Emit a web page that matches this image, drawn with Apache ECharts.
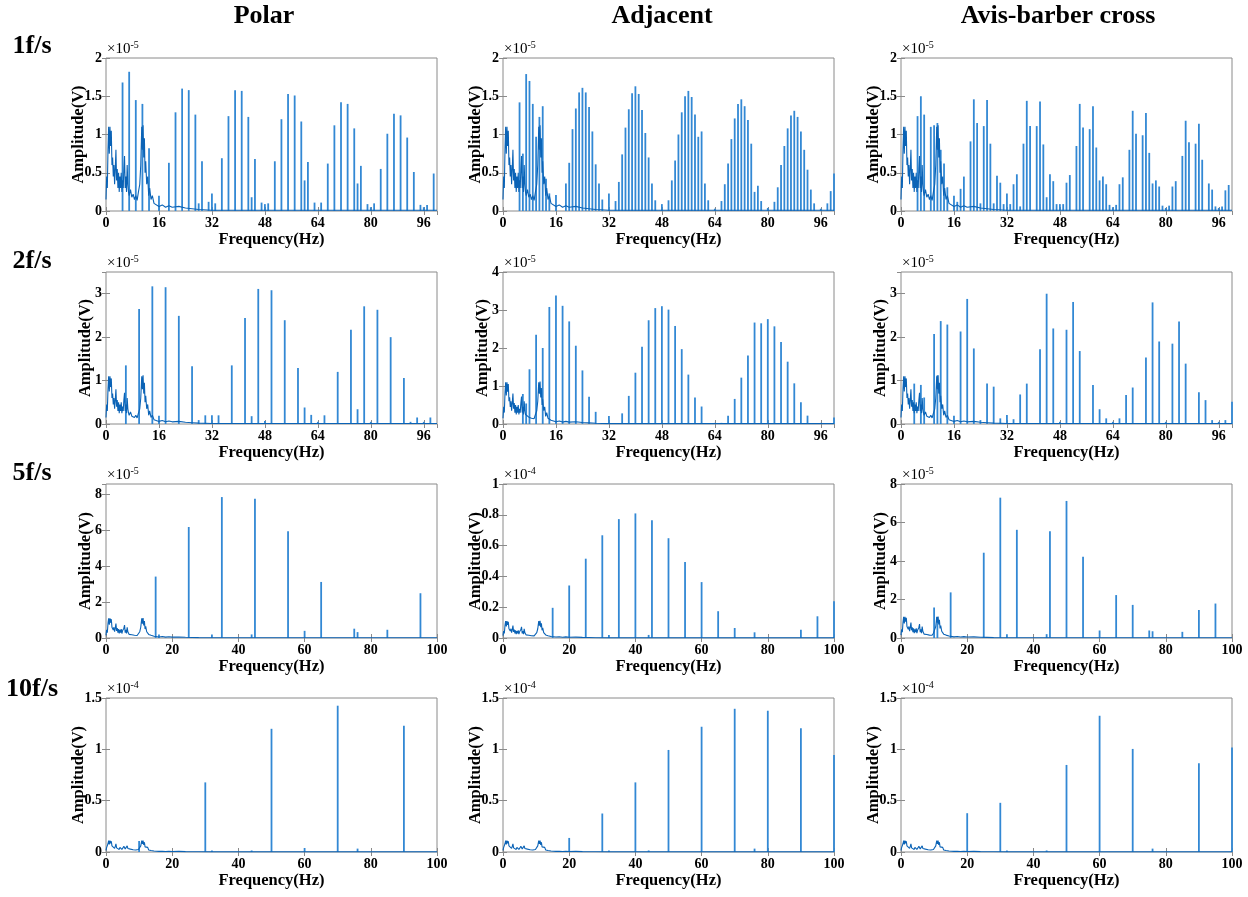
<!DOCTYPE html>
<html>
<head>
<meta charset="utf-8">
<title>Amplitude spectra</title>
<script src="https://cdn.jsdelivr.net/npm/echarts@6.0.0/dist/echarts.min.js"></script>
<style>
  html, body { margin: 0; padding: 0; background: #fff; }
  #main { width: 1248px; height: 897px; }
</style>
</head>
<body>
<div id="main"></div>
<script>
const columnNames = ["Polar", "Adjacent", "Avis-barber cross"];
const rowNames = ["1f/s", "2f/s", "5f/s", "10f/s"];

// all amplitudes are in units of 1e-5 V, points are [frequency (Hz), amplitude]
// low-frequency background, the same in every panel
const lowFreqNoise = [
    [0, 0.15], [0.2, 0.45], [0.4, 0.3], [0.6, 0.8], [0.8, 1.1], [1.0, 0.75], [1.2, 1.1], [1.4, 0.85],
    [1.6, 1.05], [1.8, 0.6], [2.0, 0.7], [2.2, 0.45], [2.4, 0.6], [2.6, 0.35], [2.8, 0.55], [3.0, 0.8],
    [3.2, 0.4], [3.4, 0.55], [3.6, 0.3], [3.8, 0.5], [4.0, 0.25], [4.2, 0.45], [4.4, 0.3], [4.6, 0.5],
    [4.8, 0.25], [5.0, 0.4], [5.2, 0.3], [5.4, 0.55], [5.6, 0.72], [5.8, 0.3], [6.0, 0.45], [6.2, 0.25],
    [6.4, 0.6], [6.6, 0.35], [6.8, 0.25], [7.0, 0.2], [7.4, 0.28], [7.8, 0.18], [8.2, 0.22], [8.6, 0.15],
    [9.0, 0.2], [9.4, 0.14], [9.8, 0.25], [10.2, 0.35], [10.5, 0.6], [10.8, 1.1], [11.0, 0.8], [11.2, 1.12],
    [11.4, 0.7], [11.6, 0.95], [11.8, 0.5], [12.0, 0.65], [12.3, 0.35], [12.6, 0.45], [12.9, 0.2], [13.2, 0.3],
    [13.6, 0.15], [14.0, 0.2], [14.5, 0.1], [15.0, 0.12], [16, 0.06], [17, 0.08], [18, 0.05], [19, 0.07],
    [20, 0.05], [22, 0.06], [24, 0.04], [26, 0.03], [28, 0.02], [32, 0.01], [100, 0.01]
];

// 1f/s
const polar1 = [
    [5, 1.68], [7, 1.82], [9, 1.45], [11, 1.4], [13, 0.82], [16, 0.2], [19, 0.63], [21, 1.29], [23, 1.6],
    [25, 1.58], [27, 1.26], [28, 0.1], [29, 0.65], [31, 0.12], [32, 0.23], [33, 0.1], [35, 0.69], [37, 1.24],
    [39, 1.58], [41, 1.57], [43, 1.23], [44, 0.18], [45, 0.68], [47, 0.11], [48, 0.09], [49, 0.1], [51, 0.65],
    [53, 1.2], [55, 1.53], [57, 1.51], [59, 1.17], [60, 0.4], [61, 0.64], [63, 0.11], [65, 0.11], [67, 0.62],
    [69, 1.12], [71, 1.42], [73, 1.4], [75, 1.08], [76, 0.36], [77, 0.59], [79, 0.09], [80, 0.05], [81, 0.1],
    [83, 0.55], [85, 1.01], [87, 1.27], [89, 1.25], [91, 0.96], [93, 0.51], [95, 0.08], [96, 0.05], [97, 0.08],
    [99, 0.49]
];
const adjacent1 = [
    [5, 1.42], [6, 0.75], [7, 1.79], [8, 1.7], [9, 1.4], [10, 0.97], [11, 1.23], [12, 1.37], [13, 0.42],
    [14, 0.23], [16, 0.21], [19, 0.36], [20, 0.63], [21, 1.07], [22, 1.34], [23, 1.55], [24, 1.61], [25, 1.55],
    [26, 1.36], [27, 1.04], [28, 0.61], [29, 0.36], [30, 0.15], [32, 0.23], [34, 0.13], [35, 0.38], [36, 0.74],
    [37, 1.09], [38, 1.33], [39, 1.54], [40, 1.63], [41, 1.53], [42, 1.32], [43, 1.02], [44, 0.7], [45, 0.36],
    [46, 0.14], [48, 0.09], [50, 0.14], [51, 0.4], [52, 0.66], [53, 1.0], [54, 1.29], [55, 1.5], [56, 1.57],
    [57, 1.49], [58, 1.26], [59, 0.97], [60, 1.04], [61, 0.36], [62, 0.14], [64, 0.03], [66, 0.13], [67, 0.35],
    [68, 0.62], [69, 0.94], [70, 1.21], [71, 1.4], [72, 1.46], [73, 1.37], [74, 1.19], [75, 0.88], [76, 0.25],
    [77, 0.33], [78, 0.13], [80, 0.04], [82, 0.12], [83, 0.31], [84, 0.6], [85, 0.85], [86, 1.08], [87, 1.25],
    [88, 1.31], [89, 1.23], [90, 1.04], [91, 0.8], [92, 0.54], [93, 0.28], [94, 0.1], [96, 0.03], [98, 0.1],
    [99, 0.26], [100, 0.49]
];
const avis1 = [
    [5, 1.24], [6, 1.5], [7, 1.26], [9, 1.1], [10, 1.12], [11, 1.15], [12, 0.8], [13, 0.62], [14, 0.31],
    [16, 0.2], [17, 0.12], [18, 0.29], [19, 0.45], [21, 0.91], [22, 1.46], [23, 1.15], [24, 0.1], [25, 1.11],
    [26, 1.45], [27, 0.88], [28, 0.1], [29, 0.46], [30, 0.37], [31, 0.09], [32, 0.23], [33, 0.09], [34, 0.35],
    [35, 0.48], [36, 0.06], [37, 0.88], [38, 1.44], [39, 1.11], [41, 1.11], [42, 1.43], [43, 0.87], [44, 0.18],
    [45, 0.48], [46, 0.39], [47, 0.09], [48, 0.09], [49, 0.09], [50, 0.37], [51, 0.47], [53, 0.85], [54, 1.4],
    [55, 1.09], [57, 1.07], [58, 1.37], [59, 0.83], [60, 0.4], [61, 0.45], [62, 0.35], [63, 0.08], [64, 0.05],
    [65, 0.08], [66, 0.35], [67, 0.44], [69, 0.8], [70, 1.31], [71, 1.01], [73, 0.99], [74, 1.28], [75, 0.76],
    [76, 0.36], [77, 0.4], [78, 0.32], [79, 0.07], [80, 0.04], [81, 0.07], [82, 0.32], [83, 0.39], [85, 0.72],
    [86, 1.18], [87, 0.9], [89, 0.88], [90, 1.14], [91, 0.67], [93, 0.36], [94, 0.28], [95, 0.06], [96, 0.04],
    [97, 0.06], [98, 0.27], [99, 0.34]
];

// 2f/s
const polar2 = [
    [6, 1.35], [10, 2.65], [14, 3.17], [16, 0.19], [18, 3.15], [22, 2.49], [26, 1.33], [28, 0.09], [30, 0.2],
    [32, 0.2], [34, 0.2], [38, 1.35], [42, 2.44], [44, 0.18], [46, 3.11], [48, 0.07], [50, 3.08], [54, 2.39],
    [58, 1.29], [60, 0.38], [62, 0.21], [64, 0.05], [66, 0.2], [70, 1.2], [74, 2.17], [76, 0.34], [78, 2.71],
    [80, 0.05], [82, 2.63], [86, 2.0], [90, 1.06], [92, 0.05], [94, 0.15], [96, 0.05], [98, 0.15]
];
const adjacent2 = [
    [6, 0.79], [7, 0.54], [8, 1.44], [10, 2.35], [12, 2.0], [14, 3.08], [16, 3.38], [18, 3.11], [20, 2.7],
    [22, 2.06], [24, 1.41], [26, 0.72], [28, 0.32], [32, 0.21], [36, 0.28], [38, 0.74], [40, 1.35], [42, 2.03],
    [44, 2.73], [46, 3.05], [48, 3.1], [50, 3.01], [52, 2.58], [54, 1.97], [56, 1.3], [58, 0.7], [60, 0.46],
    [64, 0.03], [66, 0.03], [68, 0.22], [70, 0.66], [72, 1.22], [74, 1.8], [76, 2.67], [78, 2.65], [80, 2.76],
    [82, 2.57], [84, 2.16], [86, 1.64], [88, 1.07], [90, 0.57], [92, 0.22], [96, 0.03], [100, 0.17]
];
const avis2 = [
    [4, 0.93], [6, 0.9], [7, 0.61], [10, 2.07], [11, 1.12], [12, 2.37], [14, 2.29], [16, 0.19], [18, 2.13],
    [20, 2.88], [22, 1.74], [24, 0.09], [26, 0.93], [28, 0.86], [30, 0.13], [32, 0.21], [34, 0.11], [36, 0.68],
    [38, 0.93], [42, 1.72], [44, 3.0], [46, 2.2], [48, 0.05], [50, 2.17], [52, 2.81], [54, 1.68], [58, 0.9],
    [60, 0.34], [62, 0.13], [64, 0.05], [66, 0.13], [68, 0.67], [70, 0.84], [74, 1.53], [76, 2.8], [78, 1.9],
    [80, 0.05], [82, 1.85], [84, 2.36], [86, 1.39], [90, 0.73], [92, 0.55], [94, 0.09], [96, 0.05], [98, 0.09],
    [100, 0.51]
];

// 5f/s
const polar5 = [
    [15, 3.43], [16, 0.2], [25, 6.2], [32, 0.2], [35, 7.87], [44, 0.2], [45, 7.78], [55, 5.96], [60, 0.4],
    [65, 3.13], [75, 0.52], [76, 0.33], [85, 0.46], [95, 2.5]
];
const adjacent5 = [
    [15, 1.96], [20, 3.41], [25, 5.15], [30, 6.67], [32, 0.2], [35, 7.72], [40, 8.09], [44, 0.2], [45, 7.65],
    [50, 6.48], [55, 4.93], [60, 3.63], [65, 1.74], [70, 0.65], [76, 0.37], [90, 0.54], [95, 1.41], [100, 2.39]
];
const avis5 = [
    [10, 1.58], [11, 1.09], [15, 2.37], [25, 4.43], [30, 7.29], [32, 0.2], [35, 5.62], [44, 0.2], [45, 5.54],
    [50, 7.12], [55, 4.22], [60, 0.39], [65, 2.23], [70, 1.72], [75, 0.39], [76, 0.35], [85, 0.32], [90, 1.46],
    [95, 1.79]
];

// 10f/s
const polar10 = [
    [10, 1.08], [30, 6.78], [32, 0.15], [44, 0.15], [50, 12.0], [60, 0.39], [70, 14.25], [76, 0.33], [90, 12.3]
];
const adjacent10 = [
    [20, 1.37], [30, 3.75], [32, 0.15], [40, 6.78], [44, 0.15], [50, 9.94], [60, 12.2], [70, 13.95], [76, 0.33],
    [80, 13.76], [90, 12.06], [100, 9.46]
];
const avis10 = [
    [20, 3.78], [30, 4.79], [32, 0.15], [44, 0.15], [50, 8.48], [60, 13.27], [70, 10.04], [76, 0.33], [90, 8.64],
    [100, 10.17]
];

const spikes = [polar1, adjacent1, avis1, polar2, adjacent2, avis2, polar5, adjacent5, avis5, polar10, adjacent10, avis10];

// y axis per panel (in 1e-5 V), divisor turns it into the printed tick labels
const yMax = [2, 2, 2, 3.5, 4, 3.5, 8.6, 10, 8, 15, 15, 15];
const yStep = [0.5, 0.5, 0.5, 1, 1, 1, 2, 2, 2, 5, 5, 5];
const yLabelDiv = [1, 1, 1, 1, 1, 1, 1, 10, 1, 10, 10, 10];
const yExponent = ["-5", "-5", "-5", "-5", "-5", "-5", "-5", "-4", "-5", "-4", "-4", "-4"];
const xStepByRow = [16, 16, 20, 20];

// layout
const colLeft = [106, 503, 901];
const plotW = 331;
const rowTop = [58, 272, 484, 698];
const rowH = [153, 152, 154, 154];
const serif = '"Liberation Serif", "Times New Roman", serif';
const boxColor = "#8a8a8a";
const spikeColor = "#3288d4";
const noiseColor = "#0b63b6";

const chart = echarts.init(document.querySelector("#main"));

let grids = [];
let xAxes = [];
let yAxes = [];
let series = [];
let graphics = [];

for (let i = 0; i < 12; i++) {
    let r = Math.floor(i / 3);
    let c = i % 3;
    let left = colLeft[c];
    let top = rowTop[r];
    // tick labels like "0.5" push the axis name further out than "3"
    let longLabels = yStep[i] / yLabelDiv[i] < 1;

    grids.push({
        left: left,
        top: top,
        width: plotW,
        height: rowH[r],
        containLabel: false,
        outerBoundsMode: "none",
        show: true,
        borderColor: boxColor,
        borderWidth: 1,
    });

    let tick = { show: true, inside: true, length: 4, lineStyle: { color: boxColor } };
    let xBase = {
        type: "value",
        gridIndex: i,
        min: 0,
        max: 100,
        interval: xStepByRow[r],
        axisLine: { show: false },
        axisTick: tick,
        splitLine: { show: false },
    };
    xAxes.push(Object.assign({}, xBase, {
        position: "bottom",
        name: "Frequency(Hz)",
        nameLocation: "middle",
        nameGap: 20,
        nameMoveOverlap: false,
        nameTextStyle: { fontFamily: serif, fontWeight: "bold", fontSize: 16.5, color: "#000" },
        axisLabel: {
            margin: 5,
            fontFamily: serif,
            fontWeight: "bold",
            fontSize: 14,
            color: "#000",
            showMaxLabel: xStepByRow[r] === 20,
        },
    }));
    xAxes.push(Object.assign({}, xBase, { position: "top", axisLabel: { show: false } }));

    let yBase = {
        type: "value",
        gridIndex: i,
        min: 0,
        max: yMax[i],
        interval: yStep[i],
        axisLine: { show: false },
        axisTick: tick,
        splitLine: { show: false },
    };
    let div = yLabelDiv[i];
    yAxes.push(Object.assign({}, yBase, {
        position: "left",
        name: "Amplitude(V)",
        nameLocation: "middle",
        nameRotate: 90,
        nameGap: longLabels ? 19 : 12,
        nameMoveOverlap: false,
        nameTextStyle: { fontFamily: serif, fontWeight: "bold", fontSize: 16.5, color: "#000" },
        axisLabel: {
            margin: 4,
            fontFamily: serif,
            fontWeight: "bold",
            fontSize: 14,
            color: "#000",
            showMaxLabel: (yMax[i] / yStep[i]) % 1 === 0,
            formatter: (v) => String(+(v / div).toFixed(2)),
        },
    }));
    yAxes.push(Object.assign({}, yBase, { position: "right", axisLabel: { show: false } }));

    series.push({
        type: "bar",
        xAxisIndex: 2 * i,
        yAxisIndex: 2 * i,
        barWidth: 1.8,
        itemStyle: { color: spikeColor },
        data: spikes[i],
        z: 2,
    });
    series.push({
        type: "line",
        xAxisIndex: 2 * i,
        yAxisIndex: 2 * i,
        showSymbol: false,
        symbol: "none",
        lineStyle: { color: noiseColor, width: 1.1 },
        data: lowFreqNoise,
        z: 3,
    });

    graphics.push({
        type: "text",
        x: left + 1,
        y: top - 1,
        style: {
            text: "{m|×10}{e|" + yExponent[i] + "}",
            verticalAlign: "bottom",
            fill: "#000",
            rich: {
                m: { fontFamily: serif, fontSize: 15, lineHeight: 17, verticalAlign: "bottom" },
                e: { fontFamily: serif, fontSize: 10, lineHeight: 10, verticalAlign: "top" },
            },
        },
    });
}

const titleX = [264, 662, 1058];
columnNames.forEach((name, c) => {
    graphics.push({
        type: "text",
        x: titleX[c],
        y: 16,
        style: {
            text: name,
            font: "bold 26px " + serif,
            fill: "#000",
            align: "center",
            verticalAlign: "middle",
        },
    });
});

const rowLabelY = [46, 261, 473, 689];
rowNames.forEach((name, r) => {
    graphics.push({
        type: "text",
        x: 32,
        y: rowLabelY[r],
        style: {
            text: name,
            font: "bold 26px " + serif,
            fill: "#000",
            align: "center",
            verticalAlign: "middle",
        },
    });
});

let option = {
    animation: false,
    backgroundColor: "#fff",
    grid: grids,
    xAxis: xAxes,
    yAxis: yAxes,
    series: series,
    graphic: graphics,
};
chart.setOption(option);
</script>
</body>
</html>
